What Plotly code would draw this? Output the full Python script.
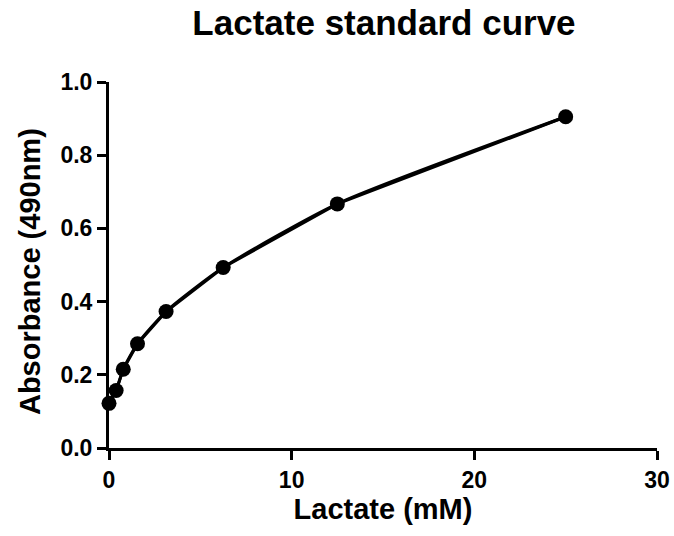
import plotly.graph_objects as go

lactate_mM = [0, 0.39, 0.78, 1.56, 3.125, 6.25, 12.5, 25]
absorbance = [0.122, 0.157, 0.215, 0.285, 0.373, 0.493, 0.667, 0.905]
x_ticks = [0, 10, 20, 30]
y_ticks = [0.0, 0.2, 0.4, 0.6, 0.8, 1.0]

fig = go.Figure()
# smooth fitted curve through the standards
fig.add_trace(go.Scatter(
    x=lactate_mM, y=absorbance, mode="lines",
    line=dict(color="black", width=3, shape="spline", smoothing=0.6),
    cliponaxis=False, showlegend=False))
# straight connecting line with markers
fig.add_trace(go.Scatter(
    x=lactate_mM, y=absorbance, mode="lines+markers",
    line=dict(color="black", width=3),
    marker=dict(color="black", size=15),
    cliponaxis=False, showlegend=False))

font = "Liberation Sans, Arial, sans-serif"
fig.update_layout(
    width=674, height=536,
    margin=dict(l=109, r=17, t=82, b=88),
    paper_bgcolor="white", plot_bgcolor="white",
    title=dict(text="<b>Lactate standard curve</b>", x=0.5697, xanchor="center",
               y=0.958, yanchor="middle",
               font=dict(family=font, size=35, color="black")),
    font=dict(family=font, color="black"),
    annotations=[dict(
        text="<b>Absorbance (490nm)</b>", textangle=-90,
        xref="paper", yref="paper", x=-0.144, y=0.481,
        xanchor="center", yanchor="middle", showarrow=False,
        font=dict(family=font, size=29, color="black"))],
)
fig.update_xaxes(
    range=[0, 30], tickvals=x_ticks, ticktext=[f"<b>{v}</b>" for v in x_ticks],
    showline=True, linecolor="black", linewidth=3,
    ticks="outside", ticklen=9, tickwidth=3, tickcolor="black",
    showgrid=False, zeroline=False, automargin=False,
    tickfont=dict(family=font, size=23, color="black"),
    title=dict(text="<b>Lactate (mM)</b>", font=dict(family=font, size=29, color="black"),
               standoff=4),
)
fig.update_yaxes(
    range=[0, 1.0], tickvals=y_ticks, ticktext=[f"<b>{v:.1f}</b>" for v in y_ticks],
    showline=True, linecolor="black", linewidth=3,
    ticks="outside", ticklen=9, tickwidth=3, tickcolor="black",
    showgrid=False, zeroline=False, automargin=False,
    tickfont=dict(family=font, size=23, color="black"),
)

fig.write_html(
    "out.html",
    config={"displayModeBar": False},
    post_script="document.body.style.margin='0';document.body.style.overflow='hidden';",
)
